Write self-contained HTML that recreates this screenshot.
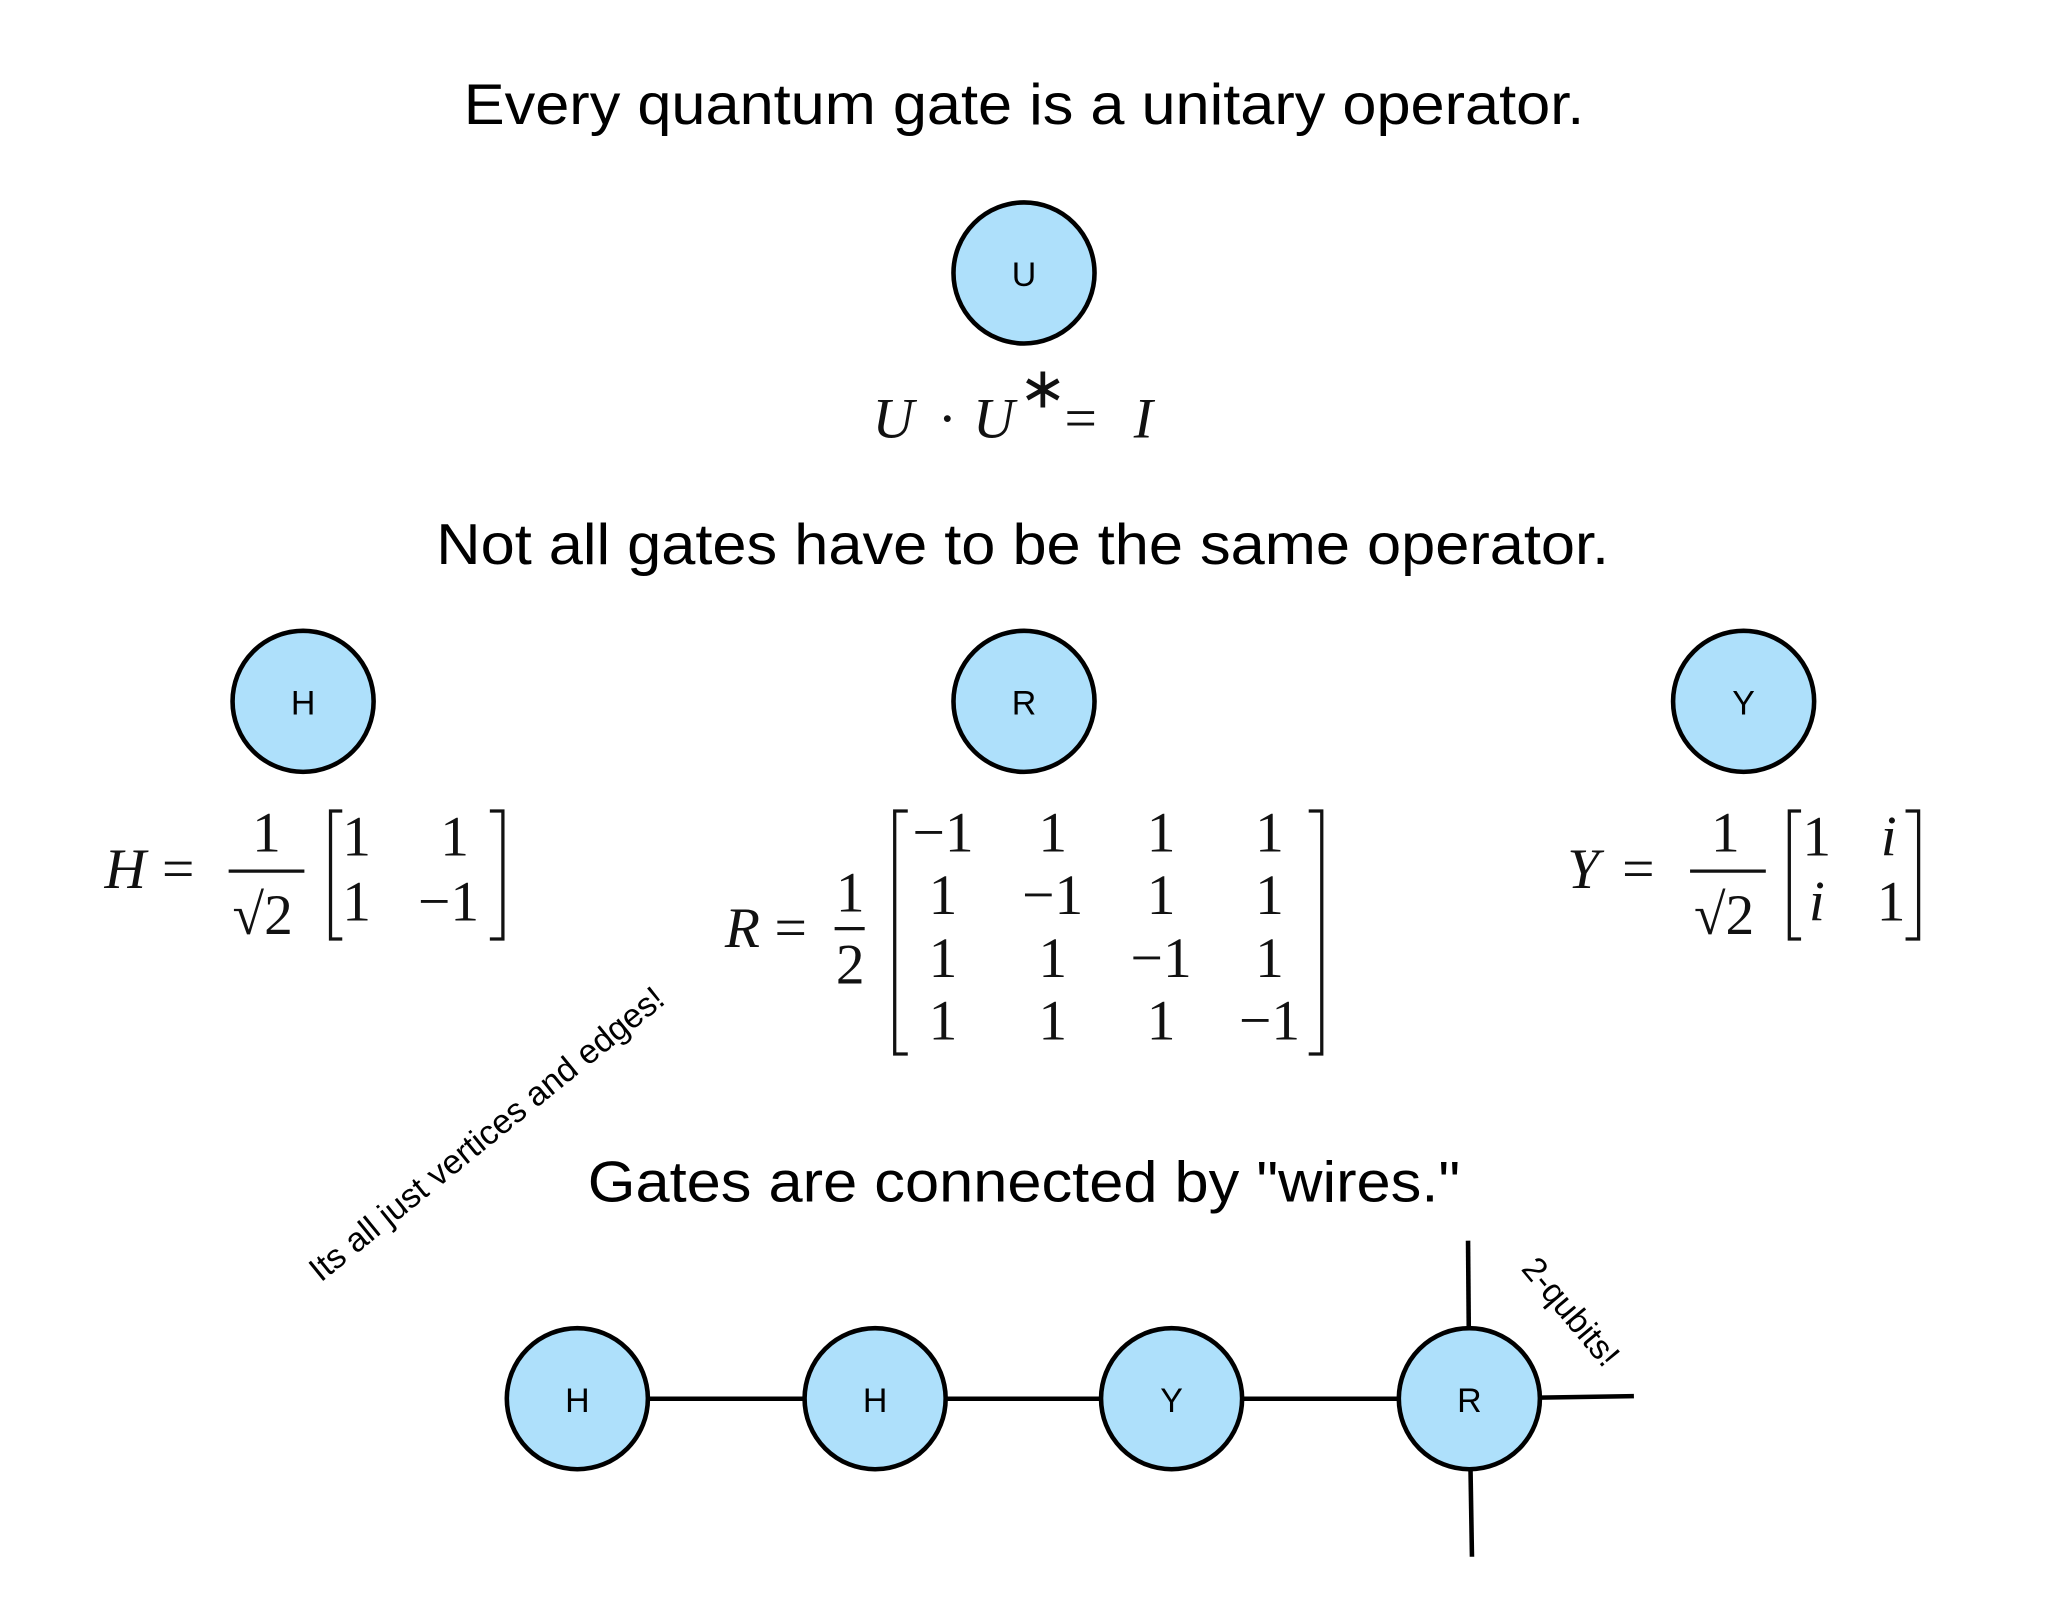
<!DOCTYPE html>
<html><head><meta charset="utf-8"><style>
html,body{margin:0;padding:0;background:#fff;}
svg{display:block;}
.h{font-family:"Liberation Sans",sans-serif;font-size:44px;fill:#000;}
.m{font-family:"Liberation Serif",serif;font-size:44px;fill:#111;}
.i{font-style:italic;}
.c{fill:#aee0fb;stroke:#000;stroke-width:3.5;}
.l{font-family:"Liberation Sans",sans-serif;font-size:26px;fill:#000;text-anchor:middle;}
.b{fill:none;stroke:#111;stroke-width:2.5;}
</style></head><body>
<svg width="2048" height="1609" viewBox="0 0 1568 1232" xmlns="http://www.w3.org/2000/svg">
<rect width="1568" height="1232" fill="#fff"/>
<text class="h" x="355" y="95" textLength="858" lengthAdjust="spacingAndGlyphs">Every quantum gate is a unitary operator.</text>
<circle class="c" cx="784" cy="209" r="54"/><text class="l" x="784" y="219">U</text>
<text class="m i" x="668" y="335" font-size="50">U</text>
<text class="m" x="718" y="335" font-size="50">·</text>
<text class="m i" x="745" y="335" font-size="50">U</text>
<text class="m" x="780" y="312" font-size="32">∗</text>
<text class="m" x="815" y="335" font-size="50">=</text>
<text class="m i" x="868" y="335" font-size="50">I</text>
<text class="h" x="334" y="432" textLength="898" lengthAdjust="spacingAndGlyphs">Not all gates have to be the same operator.</text>
<circle class="c" cx="232" cy="537" r="54"/><text class="l" x="232" y="547">H</text>
<circle class="c" cx="784" cy="537" r="54"/><text class="l" x="784" y="547">R</text>
<circle class="c" cx="1335" cy="537" r="54"/><text class="l" x="1335" y="547">Y</text>
<!-- H eq -->
<text class="m i" x="80" y="680">H</text><text class="m" x="124" y="680">=</text>
<text class="m" x="193" y="652">1</text><line class="b" x1="175" y1="667" x2="233" y2="667"/>
<text class="m" x="178" y="715">√2</text>
<path class="b" d="M262 621H253V719H262M375 621H385V719H375"/>
<text class="m" x="262" y="655">1</text><text class="m" x="337" y="655">1</text>
<text class="m" x="262" y="705">1</text><text class="m" x="320" y="705">−1</text>
<!-- R eq -->
<text class="m i" x="555" y="725">R</text><text class="m" x="593" y="725">=</text>
<text class="m" x="640" y="698">1</text><line class="b" x1="639" y1="711" x2="662" y2="711"/>
<text class="m" x="640" y="753">2</text>
<path class="b" d="M695 621H685V807H695M1002 621H1012V807H1002"/>
<g class="m" text-anchor="middle">
<text x="722" y="652">−1</text><text x="806" y="652">1</text><text x="889" y="652">1</text><text x="972" y="652">1</text>
<text x="722" y="700">1</text><text x="806" y="700">−1</text><text x="889" y="700">1</text><text x="972" y="700">1</text>
<text x="722" y="748">1</text><text x="806" y="748">1</text><text x="889" y="748">−1</text><text x="972" y="748">1</text>
<text x="722" y="796">1</text><text x="806" y="796">1</text><text x="889" y="796">1</text><text x="972" y="796">−1</text>
</g>
<!-- Y eq -->
<text class="m i" x="1200" y="680">Y</text><text class="m" x="1242" y="680">=</text>
<text class="m" x="1310" y="652">1</text><line class="b" x1="1294" y1="667" x2="1352" y2="667"/>
<text class="m" x="1297" y="715">√2</text>
<path class="b" d="M1379 621H1370V719H1379M1459 621H1469V719H1459"/>
<text class="m" x="1380" y="655">1</text><text class="m i" x="1440" y="655">i</text>
<text class="m i" x="1385" y="705">i</text><text class="m" x="1437" y="705">1</text>
<text class="l" transform="translate(378,875) rotate(-39)" font-size="21">Its all just vertices and edges!</text>
<text class="h" x="450" y="920" textLength="668" lengthAdjust="spacingAndGlyphs">Gates are connected by "wires."</text>
<g stroke="#000" stroke-width="3.5">
<line x1="442" y1="1071" x2="1125" y2="1071"/>
<line x1="1124" y1="950" x2="1125" y2="1071"/>
<line x1="1125" y1="1071" x2="1127" y2="1192"/>
<line x1="1125" y1="1071" x2="1251" y2="1069"/>
</g>
<circle class="c" cx="442" cy="1071" r="54"/><text class="l" x="442" y="1081">H</text>
<circle class="c" cx="670" cy="1071" r="54"/><text class="l" x="670" y="1081">H</text>
<circle class="c" cx="897" cy="1071" r="54"/><text class="l" x="897" y="1081">Y</text>
<circle class="c" cx="1125" cy="1071" r="54"/><text class="l" x="1125" y="1081">R</text>
<text class="l" transform="translate(1196,1010) rotate(50)" font-size="21">2-qubits!</text>
</svg>
</body></html>
